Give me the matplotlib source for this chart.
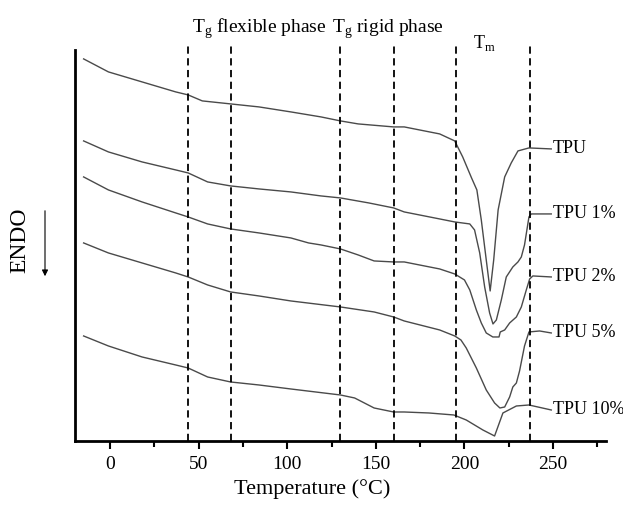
"""DSC curves of TPU composites."""

import matplotlib

matplotlib.use("Agg")
from matplotlib import pyplot as plt

plt.rcParams["font.family"] = ["Liberation Serif", "DejaVu Serif"]

# temperatures (°C) and heat-flow values (arbitrary units)
tpu_t = [-15, -1, 18, 37, 44, 52, 68, 84, 102, 119, 130, 140, 160, 166, 186,
         194.5, 199, 204, 207, 209.5, 212.3, 214.5, 216.5, 219, 222.7, 226.4,
         230.2, 236.4, 249]
tpu_y = [382, 369, 359, 349, 346, 340, 337, 334, 329, 324, 320, 317, 314, 314,
         307, 300, 284, 263, 251, 221, 181, 150, 181, 231, 264, 278, 290, 293,
         292]

tpu1_t = [-15, -1, 18, 37, 44, 55, 68, 84, 102, 119, 130, 146, 160, 166, 186,
          194.5, 203, 205.7, 208.6, 211.4, 214.2, 216.1, 218, 220.8, 223.6,
          227.3, 230.2, 232.1, 233.9, 236.4, 237.7, 249]
tpu1_y = [300, 289, 279, 271, 268, 259, 255, 252, 249, 245, 243, 238, 233, 229,
          222, 219, 217, 211, 188, 154, 128, 117, 121, 141, 164, 174, 179, 184,
          196, 224, 227, 227]

tpu2_t = [-15, -1, 18, 37, 44, 55, 68, 84, 102, 112, 119, 130, 140, 149, 160,
          166, 186, 194.5, 200, 203, 206.7, 209.5, 212.3, 216, 219.5, 220.2,
          222.7, 225.5, 229.3, 232.1, 234.9, 236.8, 238.6, 249]
tpu2_y = [264, 251, 239, 228, 224, 217, 212, 208, 203, 198, 196, 192, 186, 180,
          179, 179, 172, 167, 161, 151, 131, 118, 108, 104, 104, 109, 111, 118,
          124, 134, 151, 162, 165, 164]

tpu5_t = [-15, -1, 18, 37, 44, 55, 68, 84, 102, 130, 149, 160, 166, 186, 194.5,
          198, 201, 206.7, 212.3, 217, 220, 222.7, 225.5, 227.3, 229.3, 231.1,
          233.9, 236.4, 242.4, 249]
tpu5_y = [198, 188, 178, 168, 164, 156, 149, 145, 140, 134, 129, 124, 120, 111,
          105, 101, 93, 73, 51, 38, 33, 34, 44, 54, 58, 70, 95, 109, 110, 108]

tpu10_t = [-15, -1, 18, 37, 44, 55, 68, 84, 102, 130, 138, 149, 160, 166, 180,
           194, 201, 210.4, 217, 221.7, 229.3, 236.4, 249]
tpu10_y = [105, 95, 84, 76, 73, 64, 59, 56, 52, 46, 43, 33, 29, 29, 28, 26, 21,
           11, 5, 28, 35, 36, 31]

labels = ["TPU", "TPU 1%", "TPU 2%", "TPU 5%", "TPU 10%"]
dashed_t = [44, 68, 130, 160, 195, 237]

curves = [
    (tpu_t, tpu_y),
    (tpu1_t, tpu1_y),
    (tpu2_t, tpu2_y),
    (tpu5_t, tpu5_y),
    (tpu10_t, tpu10_y),
]

fig = plt.figure(figsize=(6.23, 5.11), dpi=100)
ax = fig.add_axes([0.12, 0.137, 0.853, 0.781])

for (t, y), name in zip(curves, labels):
    ax.plot(t, y, color="#4a4a4a", lw=1.0)
    ax.text(250, y[-1], name, fontsize=13, va="center", ha="left",
            clip_on=False)

for t in dashed_t:
    ax.axvline(t, color="black", lw=1.3, ls=(0, (4, 2.5)))

ax.set_xticks([0, 50, 100, 150, 200, 250])
ax.set_xticks([25, 75, 125, 175, 225, 275], minor=True)
ax.set_yticks([])
ax.set_xlim(-20, 280)
ax.set_ylim(0, 399)
ax.tick_params(axis="x", which="major", direction="out", length=6, width=1.5,
               labelsize=14, pad=5)
ax.tick_params(axis="x", which="minor", direction="out", length=4, width=1.5)
for s in ("top", "right"):
    ax.spines[s].set_visible(False)
for s in ("left", "bottom"):
    ax.spines[s].set_linewidth(2)
ax.spines["left"].set_bounds(0, 391)
ax.set_xlabel("Temperature (°C)", fontsize=16)
ax.xaxis.set_label_coords(0.447, -0.095)

# phase annotations above the plot
ax.text(46, 408, r"T$_\mathregular{g}$ flexible phase", fontsize=14,
        clip_on=False)
ax.text(125.5, 408, r"T$_\mathregular{g}$ rigid phase", fontsize=14,
        clip_on=False)
ax.text(205, 393, r"T$_\mathregular{m}$", fontsize=13, clip_on=False)

# ENDO direction marker
fig.text(20 / 623, 1 - 240 / 511, "ENDO", rotation=90, fontsize=17,
         ha="center", va="center")
ax.annotate("", xy=(45 / 623, 1 - 279 / 511), xytext=(45 / 623, 1 - 208 / 511),
            xycoords="figure fraction", textcoords="figure fraction",
            arrowprops=dict(arrowstyle="-|>", lw=0.8, color="black",
                            mutation_scale=9))

fig.savefig("out.png", dpi=100)
plt.close(fig)
